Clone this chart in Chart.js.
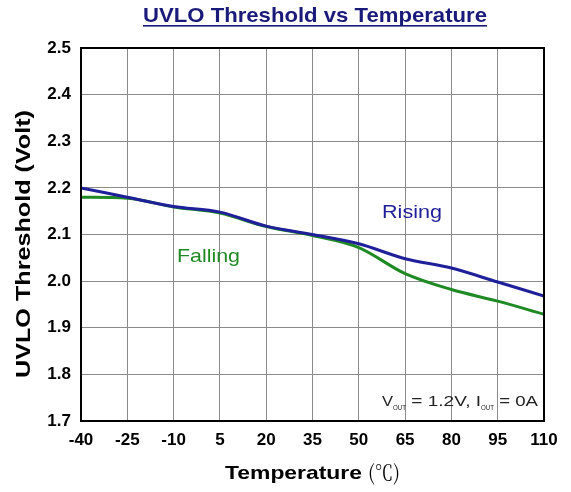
<!DOCTYPE html>
<html>
<head>
<meta charset="utf-8">
<script src="https://cdn.jsdelivr.net/npm/chart.js@4/dist/chart.umd.min.js"></script>
<style>
  html, body { margin: 0; padding: 0; background: #fff; }
  #wrap { width: 571px; height: 492px; }
</style>
</head>
<body>
<div id="wrap"><canvas id="uvlo-chart" width="571" height="492"></canvas></div>
<script>
// 溫度 (°C) 與門檻電壓 (V)
const temps = [-40, -25, -10, 5, 20, 35, 50, 65, 80, 95, 110];
const risingVolts = [2.200, 2.180, 2.160, 2.148, 2.118, 2.100, 2.080, 2.048, 2.028, 1.998, 1.968];
const fallingVolts = [2.180, 2.178, 2.159, 2.146, 2.117, 2.098, 2.072, 2.016, 1.982, 1.957, 1.929];
const xTicks = [-40, -25, -10, 5, 20, 35, 50, 65, 80, 95, 110];
const yTicks = [1.7, 1.8, 1.9, 2.0, 2.1, 2.2, 2.3, 2.4, 2.5];

const chartColors = {
    blue: '#1f1f9a',
    green: '#1f8a24',
    title: '#1a1a7a',
    grid: '#8a8a8a',
};

const SANS = '"Liberation Sans", Arial, sans-serif';
const toPoints = (ys) => temps.map((t, i) => ({ x: t, y: ys[i] }));

// 把文字水平拉伸到指定寬度 (原圖文字略寬)
function fillStretched(ctx, text, x, y, width) {
    const w = ctx.measureText(text).width;
    ctx.save();
    ctx.translate(x, y);
    ctx.scale(width / w, 1);
    ctx.textAlign = 'left';
    ctx.fillText(text, 0, 0);
    ctx.restore();
}

// 標題、軸標題與文字註解
const labelsPlugin = {
    id: 'labels',
    afterDraw(chart) {
        const ctx = chart.ctx;
        const { left, right, top, bottom } = chart.chartArea;
        ctx.save();
        ctx.textBaseline = 'alphabetic';

        // title (underlined)
        ctx.font = 'bold 21px ' + SANS;
        ctx.fillStyle = chartColors.title;
        fillStretched(ctx, 'UVLO Threshold vs Temperature', 143, 22, 344);
        ctx.fillRect(143, 25, 344, 1.6);

        // y axis title
        ctx.save();
        ctx.translate(30, 378);
        ctx.rotate(-Math.PI / 2);
        ctx.font = 'bold 20px ' + SANS;
        ctx.fillStyle = '#000';
        fillStretched(ctx, 'UVLO Threshold (Volt)', 0, 0, 268);
        ctx.restore();

        // x axis title
        ctx.fillStyle = '#000';
        ctx.font = 'bold 19px ' + SANS;
        fillStretched(ctx, 'Temperature', 225, 479, 137);
        ctx.font = '21px "Noto Serif CJK SC", "DejaVu Serif", serif';
        fillStretched(ctx, '(℃)', 368, 480, 32);

        // series labels
        ctx.font = '18px ' + SANS;
        ctx.fillStyle = chartColors.blue;
        fillStretched(ctx, 'Rising', 382, 218, 60);
        ctx.font = '19px ' + SANS;
        ctx.fillStyle = chartColors.green;
        fillStretched(ctx, 'Falling', 177, 262, 63);

        // condition note with subscripts
        ctx.fillStyle = '#222';
        const parts = [
            ['V', 15, 0, 11], ['OUT', 7, 4, 13], [' = 1.2V, I', 15, 0, 75], ['OUT', 7, 4, 13], [' = 0A', 15, 0, 44]
        ];
        let nx = 382;
        parts.forEach(([s, size, dy, w]) => {
            ctx.font = size + 'px ' + SANS;
            fillStretched(ctx, s, nx, 406 + dy, w);
            nx += w;
        });

        // plot border
        ctx.strokeStyle = '#000';
        ctx.lineWidth = 2;
        ctx.strokeRect(left, top, right - left, bottom - top);
        ctx.restore();
    }
};

const canvas = document.getElementById('uvlo-chart');
new Chart(canvas, {
    type: 'line',
    data: {
        datasets: [{
            label: 'Rising',
            data: toPoints(risingVolts),
            borderColor: chartColors.blue,
            borderWidth: 3,
            pointRadius: 0,
            cubicInterpolationMode: 'monotone',
            fill: false,
        }, {
            label: 'Falling',
            data: toPoints(fallingVolts),
            borderColor: chartColors.green,
            borderWidth: 3,
            pointRadius: 0,
            cubicInterpolationMode: 'monotone',
            fill: false,
        }]
    },
    options: {
        responsive: false,
        animation: false,
        layout: { padding: { left: 0, right: 27, top: 48, bottom: 0 } },
        plugins: {
            legend: { display: false },
            tooltip: { enabled: false },
        },
        scales: {
            x: {
                type: 'linear',
                min: -40,
                max: 110,
                afterBuildTicks: (axis) => { axis.ticks = xTicks.map(v => ({ value: v })); },
                afterFit: (axis) => { axis.height = 71; },
                grid: { color: chartColors.grid, lineWidth: 1, drawTicks: false },
                border: { display: false },
                ticks: {
                    color: '#000',
                    padding: 9,
                    maxRotation: 0,
                    font: { family: SANS, size: 17, weight: 'bold' },
                    callback: (v) => String(v),
                },
            },
            y: {
                min: 1.7,
                max: 2.5,
                afterBuildTicks: (axis) => { axis.ticks = yTicks.map(v => ({ value: v })); },
                afterFit: (axis) => { axis.width = 81; },
                grid: { color: chartColors.grid, lineWidth: 1, drawTicks: false },
                border: { display: false },
                ticks: {
                    color: '#000',
                    padding: 10,
                    font: { family: SANS, size: 17, weight: 'bold' },
                    callback: (v) => Number(v).toFixed(1),
                },
            }
        }
    },
    plugins: [labelsPlugin]
});
</script>
</body>
</html>
